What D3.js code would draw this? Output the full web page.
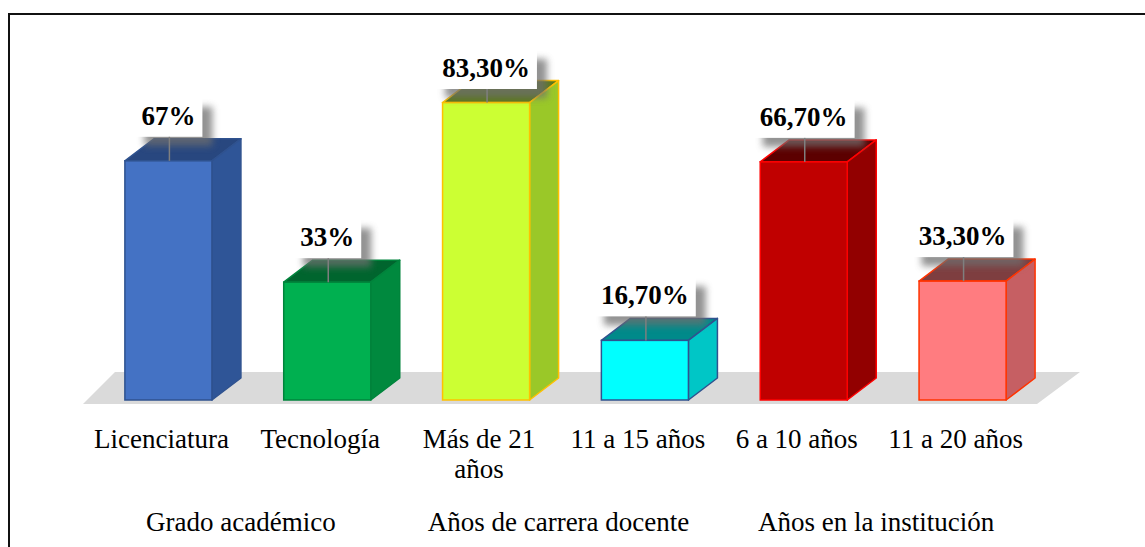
<!DOCTYPE html>
<html>
<head>
<meta charset="utf-8">
<script src="https://cdn.jsdelivr.net/npm/d3@7"></script>
<style>
  body { margin: 0; background: #fff; }
  svg { display: block; }
</style>
</head>
<body>
<div id="grafico"></div>
<script>
// Datos del grafico
let categorias = ["Licenciatura", "Tecnología", "Más de 21 años", "11 a 15 años", "6 a 10 años", "11 a 20 años"];
let valores = [67, 33, 83.3, 16.7, 66.7, 33.3];
let etiquetas = ["67%", "33%", "83,30%", "16,70%", "66,70%", "33,30%"];
let grupos = ["Grado académico", "Años de carrera docente", "Años en la institución"];
let grupoDeCategoria = [0, 0, 1, 1, 2, 2];

// Colores de cada barra: frente, lado, arriba, borde
let colores = [
  {frente: "#4472C4", lado: "#2F5597", arriba: "#28477F", borde: "#2F528F"},
  {frente: "#00B050", lado: "#00893E", arriba: "#00652E", borde: "#00843C"},
  {frente: "#CCFF33", lado: "#9AC828", arriba: "#5A7818", borde: "#FFC000"},
  {frente: "#00FFFF", lado: "#00C6C6", arriba: "#008A8A", borde: "#2F528F"},
  {frente: "#C00000", lado: "#920000", arriba: "#5C0000", borde: "#FF0000"},
  {frente: "#FF7C80", lado: "#C65F63", arriba: "#7E3E40", borde: "#FF3300"}
];

const width = 1145;
const height = 547;
const prof = {x: 29, y: 22}; // profundidad 3D de las barras
const fuente = "'Liberation Serif', 'Times New Roman', serif";

let svg = d3.select("#grafico").append("svg")
  .attr("width", width)
  .attr("height", height)
  .attr("viewBox", [0, 0, width, height]);

let defs = svg.append("defs");
defs.append("filter")
  .attr("id", "sombra")
  .attr("x", "-30%").attr("y", "-30%")
  .attr("width", "160%").attr("height", "160%")
  .append("feGaussianBlur")
  .attr("stdDeviation", 3.5);

let xScale = d3.scaleBand().domain(categorias).range([82, 1035]);
let yScale = d3.scaleLinear().domain([0, 100]).range([400, 43]);
let bw = xScale.bandwidth();

// Borde exterior
svg.append("rect")
  .attr("x", 9).attr("y", 14)
  .attr("width", 1150).attr("height", 560)
  .attr("fill", "none")
  .attr("stroke", "#111")
  .attr("stroke-width", 2);

// Piso gris
let r = xScale.range();
let y0 = yScale(0);
svg.append("polygon")
  .attr("points", [
    [r[0] + 1, y0 + 4],
    [r[1] + 2, y0 + 4],
    [r[1] + 45, y0 - 28],
    [r[0] + 33, y0 - 28]
  ].join(" "))
  .attr("fill", "#dadada");

// Barras
let g = svg.append("g");
for (let i in categorias) {
  let c = colores[i];
  let x0 = xScale(categorias[i]) + bw * 0.27;
  let x1 = x0 + bw * 0.548;
  let yt = yScale(valores[i]);
  // arriba
  g.append("polygon")
    .attr("points", [[x0, yt], [x1, yt], [x1 + prof.x, yt - prof.y], [x0 + prof.x, yt - prof.y]].join(" "))
    .attr("fill", c.arriba)
    .attr("stroke", c.borde)
    .attr("stroke-width", 1.5)
    .attr("stroke-linejoin", "round");
  // lado
  g.append("polygon")
    .attr("points", [[x1, yt], [x1 + prof.x, yt - prof.y], [x1 + prof.x, y0 - prof.y], [x1, y0]].join(" "))
    .attr("fill", c.lado)
    .attr("stroke", c.borde)
    .attr("stroke-width", 1.5)
    .attr("stroke-linejoin", "round");
  // frente
  g.append("rect")
    .attr("x", x0)
    .attr("y", yt)
    .attr("width", x1 - x0)
    .attr("height", y0 - yt)
    .attr("fill", c.frente)
    .attr("stroke", c.borde)
    .attr("stroke-width", 1.5);
}

// Etiquetas de valor con caja blanca y sombra
for (let i in categorias) {
  let x0 = xScale(categorias[i]) + bw * 0.27;
  let xc = x0 + bw * 0.274;
  let yt = yScale(valores[i]);
  let base = Math.max(yt - 36, 77);

  let lg = svg.append("g");
  let sombra = lg.append("rect");
  let caja = lg.append("rect");
  let linea = lg.append("line");
  let t = lg.append("text")
    .attr("x", xc)
    .attr("y", base)
    .attr("text-anchor", "middle")
    .style("font-family", fuente)
    .style("font-weight", "bold")
    .style("font-size", "27px")
    .attr("fill", "#000")
    .text(etiquetas[i]);

  let w = t.node().getComputedTextLength();
  let bx = xc - w / 2 - 7;
  let by = base - 27;
  let bwid = w + 14;
  let bh = 39;

  sombra.attr("x", bx + 10).attr("y", by + 9)
    .attr("width", bwid).attr("height", bh)
    .attr("fill", "#6e6e6e")
    .attr("opacity", 0.75)
    .attr("filter", "url(#sombra)");
  caja.attr("x", bx).attr("y", by)
    .attr("width", bwid).attr("height", bh)
    .attr("fill", "#fff");
  linea.attr("x1", xc + 1).attr("x2", xc + 1)
    .attr("y1", by + bh).attr("y2", yt)
    .attr("stroke", "#7f7f7f")
    .attr("stroke-width", 1.5);
}

// Etiquetas de categoria (con salto de linea si no cabe)
for (let i in categorias) {
  let xc = xScale(categorias[i]) + bw / 2;
  let t = svg.append("text")
    .attr("x", xc)
    .attr("y", 448)
    .attr("text-anchor", "middle")
    .style("font-family", fuente)
    .style("font-size", "27px")
    .attr("fill", "#000");
  let palabras = categorias[i].split(" ");
  let linea = [];
  let ts = t.append("tspan").attr("x", xc).attr("dy", 0);
  for (let p of palabras) {
    linea.push(p);
    ts.text(linea.join(" "));
    if (ts.node().getComputedTextLength() > bw - 8 && linea.length > 1) {
      linea.pop();
      ts.text(linea.join(" "));
      linea = [p];
      ts = t.append("tspan").attr("x", xc).attr("dy", 30).text(p);
    }
  }
}

// Etiquetas de grupo
for (let j in grupos) {
  let idx = [];
  for (let i in categorias) if (grupoDeCategoria[i] == j) idx.push(+i);
  let xa = xScale(categorias[idx[0]]);
  let xb = xScale(categorias[idx[idx.length - 1]]) + bw;
  svg.append("text")
    .attr("x", (xa + xb) / 2)
    .attr("y", 531)
    .attr("text-anchor", "middle")
    .style("font-family", fuente)
    .style("font-size", "27px")
    .attr("fill", "#000")
    .text(grupos[j]);
}
</script>
</body>
</html>
